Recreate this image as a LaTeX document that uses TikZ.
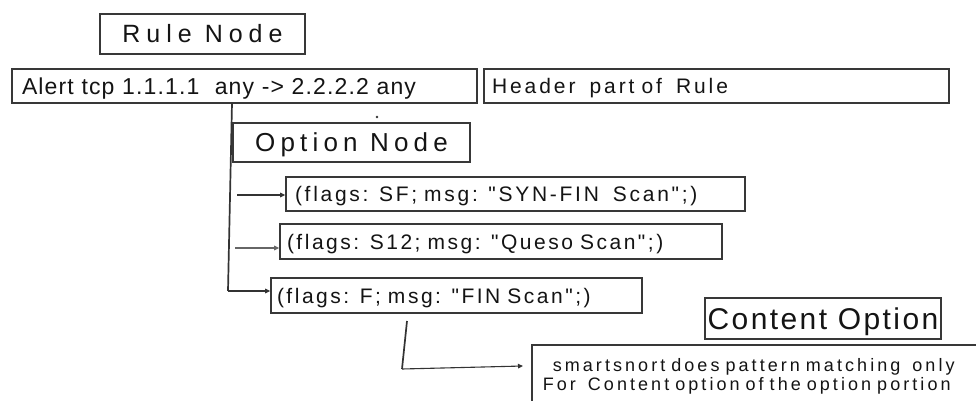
\documentclass[tikz,border=0pt]{standalone}
\usepackage{fontspec}
\setmainfont{Liberation Sans}[Ligatures=TeXOff]
\usetikzlibrary{arrows.meta}

% font helper: size and letter spacing
\newcommand{\lsfont}[2]{\fontsize{#1}{#1}\selectfont\addfontfeature{LetterSpace=#2}}

\begin{document}
\begin{tikzpicture}[x=1pt,y=-1pt,
  box/.style={draw=black!78, line width=1.6pt, inner sep=0pt, text=black!92},
  cbox/.style={box, align=center},
  lbox/.style={box, align=left},
  link/.style={draw=black!80, line width=1.1pt},
  trunk/.style={draw=black!80, line width=1.7pt},
  tip/.style={-{Triangle[length=5pt,width=4.5pt]}}
]
\fill[white] (0,0) rectangle (976,401);
\useasboundingbox (0,0) rectangle (976,401);
\clip (0,0) rectangle (976,401);

% rule header
\node[cbox, minimum width=205pt, minimum height=40pt,
      font=\lsfont{25}{24}, text height=18pt, text depth=0pt]
  (rule) at (202.5,34) {Rule Node};
\node[lbox, minimum height=34pt, text width=445pt, inner xsep=10pt,
      font=\lsfont{23}{5}, text height=16.5pt, text depth=0pt]
  (alert) at (244.5,86) {Alert tcp 1.1.1.1\ \ any -> 2.2.2.2 any};
\node[lbox, minimum height=34pt, text width=449pt, inner xsep=8pt,
      font=\lsfont{21}{14}, text height=15pt, text depth=0pt]
  (header) at (716.5,86) {Header\ \ part of\ \ Rule};

% option list
\node[cbox, minimum width=237pt, minimum height=39pt,
      font=\lsfont{26}{20}, text height=18.6pt, text depth=0pt]
  (option) at (351.5,142.5) {Option Node};
\node[lbox, minimum height=34pt, text width=441pt, inner xsep=9pt,
      font=\lsfont{21}{13}, text height=15pt, text depth=0pt]
  (sf) at (515.5,194) {(flags: SF; msg: "SYN-FIN\ \ Scan";)};
\node[lbox, minimum height=35pt, text width=428pt, inner xsep=7pt,
      font=\lsfont{21}{12}, text height=15pt, text depth=0pt]
  (s12) at (501,241.5) {(flags: S12; msg: "Queso Scan";)};
\node[lbox, minimum height=35pt, text width=359pt, inner xsep=6pt,
      font=\lsfont{21}{12}, text height=15pt, text depth=0pt]
  (fin) at (456.5,295.5) {(flags: F; msg: "FIN Scan";)};

% content option
\node[cbox, minimum width=236pt, minimum height=41pt,
      font=\lsfont{30}{8}, text height=21.5pt, text depth=0pt]
  (content) at (823,318.5) {Content Option};
\node[lbox, anchor=north west, text width=430pt, inner xsep=11pt, inner ysep=13pt,
      font=\fontsize{18}{20}\selectfont\addfontfeature{LetterSpace=17}]
  (snort) at (531,344)
  {\begin{tabular}{@{}l@{}}
     \hspace{10pt}smartsnort does pattern matching\ \ only\\[-1pt]
     For\ \ Content option of the option portion
   \end{tabular}};

% connectors
\coordinate (trunkTop) at (232,103);
\coordinate (trunkBot) at (228,291);
\coordinate (a1) at (237,195);
\coordinate (a2) at (235,248);
\coordinate (b1) at (407,321);
\coordinate (b2) at (402,369);
\coordinate (b3) at (523,366);

\draw[trunk] (trunkTop) -- (trunkBot);
\draw[link, tip] (a1) -- (a1 -| sf.west);
\draw[link, draw=black!60, tip] (a2) -- (a2 -| s12.west);
\draw[link, tip] (trunkBot) -- (trunkBot -| fin.west);
\draw[trunk] (b1) -- (b2);
\draw[link, tip] (b2) -- (b3);

\fill[black!80] (377,117) circle (1.3pt);
\end{tikzpicture}
\end{document}
